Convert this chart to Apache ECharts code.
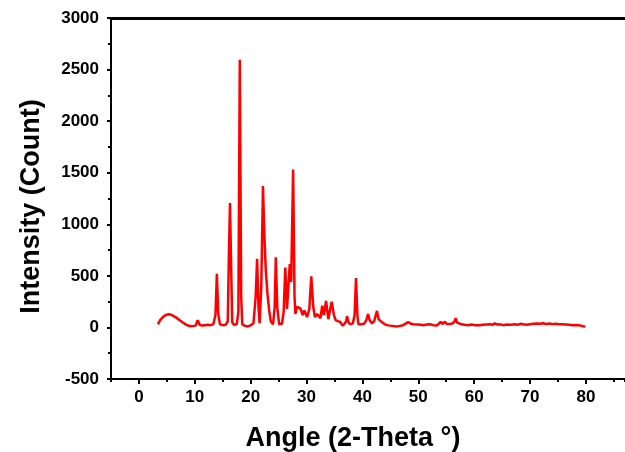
<!DOCTYPE html>
<html>
<head>
<meta charset="utf-8">
<script src="https://cdn.jsdelivr.net/npm/echarts@6/dist/echarts.min.js"></script>
<style>
html,body{margin:0;padding:0;background:#fff;}
#c{width:625px;height:452px;}
</style>
</head>
<body>
<div id="c"></div>
<script>
const angle = [3.4,3.8,4.3,4.8,5.3,5.8,6.3,6.8,7.3,7.8,8.3,8.8,9.3,9.8,10.2,10.5,10.7,10.9,11.3,11.8,12.3,12.8,13.3,13.7,13.95,14.2,14.5,15.0,15.5,15.9,16.1,16.3,16.5,16.7,17.0,17.5,17.8,18.05,18.3,18.5,19.0,19.5,20.0,20.5,20.9,21.15,21.4,21.6,21.9,22.2,22.45,22.7,23.0,23.3,23.6,24.0,24.3,24.5,24.75,25.1,25.6,25.9,26.2,26.5,26.7,27.0,27.25,27.6,27.85,28.0,28.3,28.6,28.9,29.3,29.6,29.8,30.1,30.5,30.85,31.2,31.5,31.9,32.2,32.5,32.8,33.1,33.5,33.9,34.1,34.5,34.9,35.2,35.6,36.0,36.5,36.8,37.1,37.25,37.5,37.8,38.3,38.6,38.85,39.1,39.3,39.8,40.3,40.7,41.0,41.3,41.7,42.1,42.6,42.9,43.3,44.0,44.6,45.3,46.1,46.7,47.3,48.2,48.7,49.1,49.8,50.5,50.9,51.5,52.1,52.7,53.3,53.7,54.0,54.4,54.7,55.1,55.6,56.2,56.5,56.7,56.9,57.2,57.7,58.3,58.9,59.5,60.2,60.9,61.5,62.2,62.8,63.3,63.7,64.2,64.7,65.2,65.8,66.5,67.2,67.8,68.3,68.8,69.4,70.0,70.6,71.2,71.8,72.3,72.9,73.5,74.0,74.6,75.2,75.8,76.4,77.0,77.7,78.3,78.9,79.5,79.9];
const intensity = [30,70,100,120,128,122,108,90,70,50,32,18,12,15,20,70,75,25,18,22,25,22,30,120,520,130,30,22,25,60,700,1205,600,50,25,30,150,2595,300,30,15,10,20,40,300,665,200,40,400,1372,900,560,330,170,60,30,200,680,200,30,35,150,580,180,350,615,440,1530,300,130,200,190,185,120,165,150,100,180,495,200,100,130,120,90,210,120,258,80,140,250,120,70,60,55,15,10,60,110,50,30,40,120,478,120,30,30,35,70,130,70,40,60,160,80,60,30,20,15,8,15,22,52,35,30,28,25,22,28,30,22,18,35,55,32,55,35,32,40,60,90,50,35,30,25,22,28,22,20,25,28,30,25,40,28,30,22,28,25,30,26,35,30,25,30,35,38,35,40,34,38,32,35,32,30,28,26,22,24,20,12,8];
const xMajorTicks = [0,10,20,30,40,50,60,70,80];
const xTitle = 'Angle (2-Theta °)';
const yTitle = 'Intensity (Count)';

const font = '"Liberation Sans", Arial, sans-serif';
const chart = echarts.init(document.getElementById('c'), null, {renderer:'canvas'});
const data = angle.map((a,i)=>[a,intensity[i]]);
const lbl = {fontFamily:font,fontWeight:'bold',fontSize:17,color:'#000'};
chart.setOption({
  animation:false,
  backgroundColor:'#fff',
  grid:{left:111,right:0,top:18,bottom:73,containLabel:false,outerBoundsMode:'none'},
  xAxis:[{
    type:'value', min:-5, max:87,
    name:xTitle, nameLocation:'middle', nameGap:46,
    nameTextStyle:{fontFamily:font,fontWeight:'bold',fontSize:27,color:'#000',padding:[0,30,0,0]},
    axisLine:{show:true,onZero:false,lineStyle:{color:'#000',width:2}},
    axisTick:{show:true,length:5,customValues:xMajorTicks,lineStyle:{color:'#000',width:2}},
    axisLabel:Object.assign({margin:10,customValues:xMajorTicks,formatter:v=>String(v)},lbl),
    splitLine:{show:false}
  },{
    type:'value', position:'bottom', min:-5, max:87, interval:5,
    axisLine:{show:false,onZero:false},
    axisTick:{show:true,length:3,lineStyle:{color:'#000',width:2}},
    axisLabel:{show:false}, splitLine:{show:false}
  },{
    type:'value', position:'top', min:0, max:9.94, interval:1,
    axisLine:{show:true,onZero:false,lineStyle:{color:'#000',width:3}},
    axisTick:{show:true,length:1,lineStyle:{color:'#000',width:2}},
    axisLabel:{show:false}, splitLine:{show:false}
  }],
  yAxis:{
    type:'value', min:-500, max:3000, interval:500,
    name:yTitle, nameLocation:'middle', nameGap:66,
    nameTextStyle:{fontFamily:font,fontWeight:'bold',fontSize:27,color:'#000',padding:[0,16,0,0]},
    axisLine:{show:true,onZero:false,lineStyle:{color:'#000',width:2}},
    axisTick:{show:true,length:4,lineStyle:{color:'#000',width:2}},
    minorTick:{show:true,splitNumber:2,length:3,lineStyle:{color:'#000',width:2}},
    axisLabel:Object.assign({margin:12,formatter:v=>String(v)},lbl),
    splitLine:{show:false}
  },
  series:[{
    type:'line', data:data, xAxisIndex:0, showSymbol:false, symbol:'none',
    lineStyle:{color:'#ff0000',width:2.5}, itemStyle:{color:'#ff0000'}
  }]
});
</script>
</body>
</html>
